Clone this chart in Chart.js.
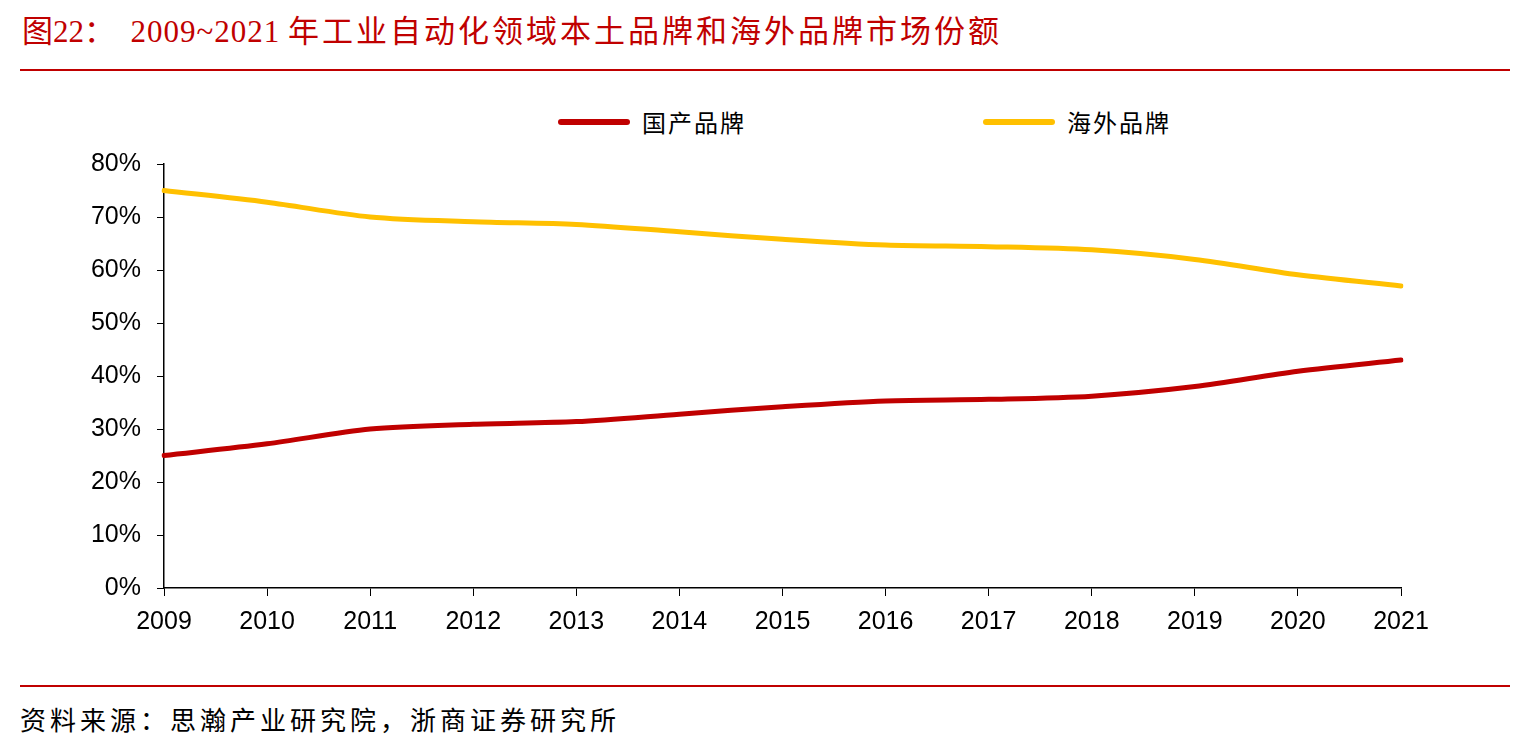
<!DOCTYPE html>
<html>
<head>
<meta charset="utf-8">
<script src="https://cdn.jsdelivr.net/npm/chart.js@4/dist/chart.umd.min.js"></script>
<style>
  body { margin: 0; width: 1521px; height: 745px; background: #fff; position: relative; overflow: hidden; }
  .title { position: absolute; left: 22px; top: 6px; font: 31px "Liberation Serif", "Noto Sans CJK SC", serif; color: #C00000; white-space: pre; }
  .title .num { letter-spacing: 1px; }
  .title .cjk { letter-spacing: 3px; }
  .rule { position: absolute; left: 20px; width: 1490px; height: 2px; background: #C00000; }
  .legend { position: absolute; top: 104px; font: 24px "Noto Sans CJK SC", sans-serif; color: #000; display: flex; align-items: center; letter-spacing: 2px; }
  .legend span.swatch { display: inline-block; width: 72px; height: 6px; border-radius: 3px; margin-right: 12px; }
  .source { position: absolute; left: 20px; top: 700px; font: 26px "Noto Sans CJK SC", sans-serif; color: #000; letter-spacing: 4px; }
  #wrap { position: absolute; left: 0; top: 133px; width: 1521px; height: 507px; }
</style>
</head>
<body>
<div class="title">图22：  <span class="num">2009~2021</span> <span class="cjk">年工业自动化领域本土品牌和海外品牌市场份额</span></div>
<div class="rule" style="top:69px"></div>
<div class="legend" style="left:558px"><span class="swatch" style="background:#C00000"></span>国产品牌</div>
<div class="legend" style="left:983px"><span class="swatch" style="background:#FFC000"></span>海外品牌</div>
<div id="wrap"><canvas id="chart"></canvas></div>
<div class="rule" style="top:685px"></div>
<div class="source">资料来源：思瀚产业研究院，浙商证券研究所</div>
<script>
// data (percent)
const years = ['2009', '2010', '2011', '2012', '2013', '2014', '2015', '2016', '2017', '2018', '2019', '2020', '2021'];
const domestic = [25, 27.2, 30, 30.9, 31.4, 32.8, 34.2, 35.3, 35.6, 36.2, 38, 40.9, 43];
const overseas = [75, 72.8, 70, 69.1, 68.6, 67.2, 65.8, 64.7, 64.4, 63.8, 62, 59.1, 57];

const tickFont = { family: 'Liberation Sans, Arial, sans-serif', size: 25 };

new Chart(document.getElementById('chart'), {
    type: 'line',
    data: {
        labels: years,
        datasets: [
            { label: '国产品牌', data: domestic, borderColor: '#C00000', borderWidth: 5, pointRadius: 0, tension: 0.3, borderCapStyle: 'round' },
            { label: '海外品牌', data: overseas, borderColor: '#FFC000', borderWidth: 5, pointRadius: 0, tension: 0.3, borderCapStyle: 'round' }
        ]
    },
    options: {
        responsive: true,
        maintainAspectRatio: false,
        animation: false,
        layout: { padding: { left: 0, right: 120, top: 15, bottom: 0 } },
        plugins: { legend: { display: false }, tooltip: { enabled: false } },
        scales: {
            x: {
                offset: false,
                grid: { drawOnChartArea: false, drawTicks: true, tickLength: 8, color: '#000' },
                border: { color: '#000', width: 1.5 },
                ticks: { color: '#000', font: tickFont, padding: 11, maxRotation: 0 },
                afterFit: (scale) => { scale.height = 52; }
            },
            y: {
                min: 0,
                max: 80,
                grid: { drawOnChartArea: false, drawTicks: true, tickLength: 7, color: '#000' },
                border: { color: '#000', width: 1.5 },
                ticks: { stepSize: 10, color: '#000', font: tickFont, padding: 16, callback: (v) => v + '%' },
                afterFit: (scale) => { scale.width = 164; }
            }
        }
    }
});
</script>
</body>
</html>
